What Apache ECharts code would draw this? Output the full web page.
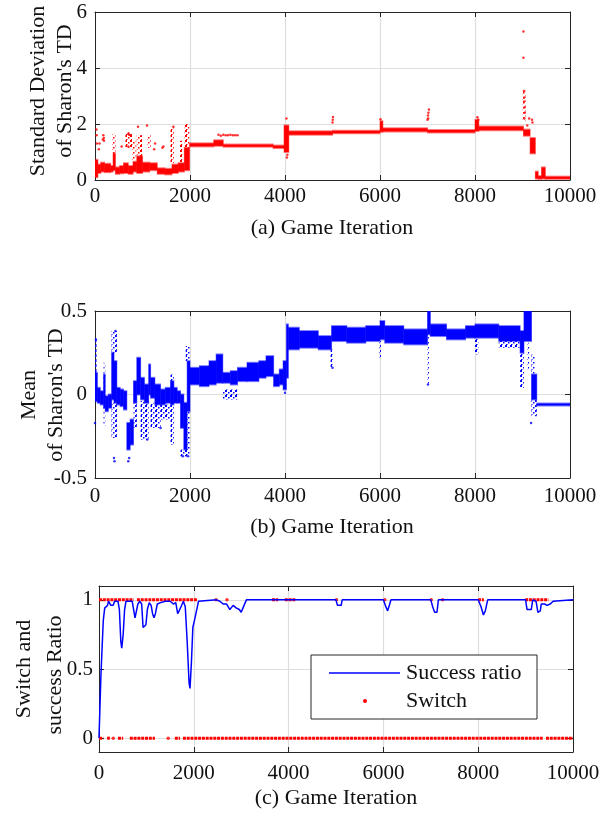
<!DOCTYPE html>
<html>
<head>
<meta charset="utf-8">
<script src="https://cdn.jsdelivr.net/npm/echarts@6/dist/echarts.min.js"></script>
<style>
  html, body { margin: 0; padding: 0; background: #fff; }
  #chart { width: 608px; height: 816px; }
</style>
</head>
<body>
<div id="chart"></div>
<script>
// (a) std of Sharon's TD: dense clouds [x0, x1, lo, hi]
const stdDense = [
  [0, 60, 0.1, 0.72], [60, 120, 0.25, 0.55], [120, 200, 0.3, 0.62], [200, 330, 0.28, 0.58],
  [330, 380, 0.3, 0.5], [380, 430, 0.35, 0.95], [430, 520, 0.22, 0.45], [520, 600, 0.24, 0.5],
  [600, 700, 0.25, 0.6], [700, 800, 0.22, 0.5], [800, 880, 0.3, 0.65], [880, 1000, 0.25, 0.85],
  [1000, 1150, 0.3, 0.62], [1150, 1310, 0.35, 0.6], [1310, 1470, 0.22, 0.42], [1470, 1620, 0.2, 0.4],
  [1620, 1750, 0.25, 0.55], [1750, 1880, 0.3, 0.6], [1880, 1990, 0.35, 1.15],
  [1990, 2500, 1.2, 1.31], [2500, 2700, 1.22, 1.42], [2700, 3750, 1.19, 1.27], [3750, 3980, 1.14, 1.23],
  [3980, 4080, 1.0, 1.95], [4080, 5000, 1.62, 1.74], [5000, 6000, 1.67, 1.76], [6000, 6060, 1.72, 2.1],
  [6060, 7000, 1.73, 1.85], [7000, 8000, 1.7, 1.79], [8000, 8080, 1.75, 2.15], [8080, 9020, 1.78, 1.91],
  [9020, 9160, 1.58, 1.8], [9160, 9270, 0.95, 1.5], [9270, 9330, 0.05, 0.3], [9330, 9400, 0.04, 0.14],
  [9400, 9480, 0.05, 0.45], [9480, 10000, 0.04, 0.12]
];
// (a) sparse clouds [x0, x1, lo, hi]
const stdSparse = [
  [360, 430, 0.95, 1.65], [640, 780, 1.15, 1.7], [780, 850, 0.7, 1.4], [880, 990, 0.85, 1.6],
  [1100, 1170, 1.15, 1.6], [1590, 1660, 0.6, 1.9], [1790, 1840, 0.6, 1.4], [1880, 1990, 1.15, 2.0],
  [9000, 9060, 2.1, 3.2]
];
// (a) isolated points
const stdDotX = [30, 35, 40, 80, 95, 165, 175, 185, 190, 560, 700, 720, 750, 700, 905, 1095, 1245, 1265, 1420, 1440, 1650,
  2600, 2650, 2700, 2750, 2800, 2850, 2900, 2950, 3000, 4030, 4050, 4040, 5000, 5010, 5005, 6010,
  7000, 7010, 7020, 7030, 7015, 8050, 8070, 9020, 9020, 9030, 9040, 9035, 9045, 9050, 9040, 9140, 9200, 9210, 9100];
const stdDotY = [1.8, 1.6, 1.3, 1.1, 1.3, 1.45, 1.6, 1.5, 1.4, 1.2, 1.65, 1.62, 1.6, 1.2, 1.9, 1.95, 1.1, 1.3, 1.15, 1.2, 1.9,
  1.62, 1.58, 1.62, 1.6, 1.6, 1.62, 1.6, 1.6, 1.6, 2.2, 0.9, 0.8, 2.05, 2.25, 2.15, 2.17,
  2.15, 2.3, 2.4, 2.52, 2.2, 2.24, 2.15, 5.3, 4.37, 3.18, 2.95, 2.8, 2.6, 2.4, 2.2, 2.2, 2.15, 2.05, 1.95];

// (b) mean of Sharon's TD: dense clouds [x0, x1, lo, hi]
const meanDense = [
  [0, 50, -0.04, 0.13], [50, 110, -0.05, 0.04], [110, 180, -0.06, 0.02], [180, 215, -0.08, 0.12],
  [215, 280, -0.1, -0.01], [280, 350, -0.08, 0.0], [350, 400, -0.03, 0.25], [400, 460, -0.05, 0.2],
  [460, 530, -0.06, 0.04], [530, 600, -0.07, 0.03], [600, 670, -0.09, 0.02], [670, 740, -0.33, -0.17],
  [740, 810, -0.3, -0.15], [810, 880, -0.05, 0.08], [880, 960, 0.0, 0.22], [960, 1040, -0.03, 0.1],
  [1040, 1130, -0.05, 0.06], [1130, 1170, 0.0, 0.18], [1170, 1260, -0.02, 0.1], [1260, 1380, -0.06, 0.06],
  [1380, 1480, -0.06, 0.03], [1480, 1590, -0.05, 0.04], [1590, 1660, -0.06, 0.08], [1660, 1730, -0.05, 0.04],
  [1730, 1800, -0.05, 0.02], [1800, 1870, -0.2, 0.0], [1870, 1940, -0.33, -0.05], [1940, 2000, -0.1, 0.2],
  [2000, 2200, 0.06, 0.16], [2200, 2400, 0.05, 0.17], [2400, 2550, 0.06, 0.2], [2550, 2690, 0.07, 0.24],
  [2690, 2850, 0.07, 0.13], [2850, 3000, 0.06, 0.14], [3000, 3200, 0.08, 0.16], [3200, 3450, 0.08, 0.19],
  [3450, 3600, 0.1, 0.2], [3600, 3760, 0.11, 0.23], [3760, 3880, 0.05, 0.12], [3880, 3960, 0.06, 0.15],
  [3960, 4030, 0.03, 0.2], [4030, 4070, 0.1, 0.42], [4070, 4300, 0.27, 0.4], [4300, 4700, 0.28, 0.38],
  [4700, 4980, 0.27, 0.35], [4980, 5300, 0.32, 0.41], [5300, 5700, 0.31, 0.4], [5700, 6000, 0.32, 0.41],
  [6000, 6100, 0.33, 0.44], [6100, 6500, 0.31, 0.41], [6500, 7000, 0.3, 0.39], [7000, 7060, 0.36, 0.5],
  [7060, 7400, 0.35, 0.42], [7400, 7800, 0.33, 0.39], [7800, 8000, 0.34, 0.41], [8000, 8500, 0.34, 0.42],
  [8500, 8950, 0.32, 0.41], [8950, 9030, 0.25, 0.38], [9030, 9190, 0.32, 0.5], [9190, 9300, -0.03, 0.12],
  [9300, 10000, -0.066, -0.054]
];
// (b) sparse clouds [x0, x1, lo, hi]
const meanSparse = [
  [0, 30, 0.13, 0.33], [180, 215, -0.19, 0.19], [350, 460, 0.25, 0.38], [350, 460, -0.26, -0.05],
  [810, 880, -0.2, -0.05], [960, 1130, -0.27, -0.04], [1170, 1380, -0.2, -0.05], [1380, 1590, -0.15, -0.06],
  [1590, 1660, -0.3, -0.06], [1590, 1660, 0.08, 0.12], [1800, 1940, -0.37, -0.33], [1910, 2000, 0.2, 0.29],
  [1910, 2000, -0.37, -0.1], [2690, 3000, -0.03, 0.03], [4960, 5010, 0.16, 0.27], [5980, 6020, 0.22, 0.32],
  [6990, 7030, 0.06, 0.36], [8000, 8070, 0.24, 0.34], [8500, 8950, 0.28, 0.32], [8950, 9030, 0.04, 0.25],
  [9100, 9140, 0.15, 0.31], [9190, 9300, -0.13, -0.03], [9190, 9260, 0.12, 0.24]
];
// (b) isolated points
const meanDotX = [0, 20, 400, 410, 430, 700, 720, 4000, 5000, 7010, 9180, 1100, 1380, 1850, 1960];
const meanDotY = [-0.17, 0.33, -0.38, -0.4, 0.38, -0.4, -0.38, 0.01, 0.16, 0.06, -0.17, -0.27, -0.2, -0.37, -0.37];

// (c) success ratio
const successX = [0, 40, 90, 120, 180, 200, 250, 300, 330, 400, 430, 460, 480, 510, 540, 570, 700, 730, 760, 790, 820, 860,
  900, 930, 960, 990, 1020, 1060, 1100, 1130, 1160, 1190, 1230, 1300, 1400, 1500, 1570, 1620, 1660, 1690, 1730,
  1780, 1820, 1860, 1900, 1920, 1950, 1980, 2020, 2060, 2100, 2130, 2480, 2550, 2620, 2690, 2760, 2830, 2900,
  2960, 3000, 3060, 3110, 5000, 5030, 5110, 5130, 6000, 6040, 6090, 6130, 6160, 7000, 7040, 7080, 7130, 7160,
  8000, 8060, 8110, 8150, 8200, 9000, 9030, 9120, 9150, 9220, 9260, 9310, 9330, 9400, 9450, 9520, 9580, 9620, 10000];
const successY = [0, 0.45, 0.85, 0.94, 0.96, 0.99, 0.96, 0.96, 0.99, 0.99, 0.93, 0.7, 0.65, 0.75, 0.93, 0.99, 0.99, 0.93, 0.87, 0.87, 0.97, 0.99,
  0.97, 0.8, 0.79, 0.82, 0.93, 0.98, 0.96, 0.9, 0.87, 0.9, 0.97, 0.98, 0.99, 0.99, 0.97, 0.98, 0.9, 0.92, 0.95,
  0.99, 0.95, 0.7, 0.4, 0.36, 0.55, 0.8, 0.86, 0.87, 0.99, 1, 1, 0.99, 0.97, 0.97, 0.93, 0.96, 0.94,
  0.93, 0.91, 0.96, 1, 1, 0.96, 0.96, 1, 1, 0.96, 0.92, 0.93, 1, 1, 0.95, 0.91, 0.91, 1,
  1, 0.95, 0.89, 0.92, 1, 1, 0.93, 0.93, 1, 0.99, 0.91, 0.92, 0.97, 0.97, 0.96, 0.97, 0.99, 1, 1];
// (c) switch: runs of dots [x0, x1, value] and single dots
const switchRuns = [
  [0, 730, 1], [800, 2070, 1], [3650, 3780, 1], [3920, 4140, 1], [8000, 8120, 1], [8990, 9480, 1],
  [0, 90, 0], [170, 230, 0], [400, 510, 0], [650, 1180, 0], [1600, 1710, 0], [1770, 9360, 0], [9430, 10000, 0]
];
const switchDotX = [2470, 2700, 5010, 6030, 7010, 7250, 300, 1460];
const switchDotY = [1, 1, 1, 1, 1, 1, 0, 0];

const RED = '#ff0000';
const BLUE = '#0000ff';
const INK = '#262626';
const FONT = 'Liberation Serif';

const chart = echarts.init(document.getElementById('chart'));

// 小点纹理，用于稀疏的点云
function dotPattern(color) {
  const c = document.createElement('canvas');
  c.width = 5; c.height = 5;
  const ctx = c.getContext('2d');
  ctx.fillStyle = color;
  ctx.fillRect(0, 0, 2, 2);
  ctx.fillRect(3, 2, 1.5, 1.5);
  ctx.fillRect(1, 4, 1.5, 1);
  return { image: c, repeat: 'repeat' };
}

const axisText = { color: '#111', fontFamily: FONT, fontSize: 21, formatter: (v) => String(v) };

function bottomX(gridIndex, margin) {
  return {
    type: 'value', gridIndex, min: 0, max: 10000, interval: 2000,
    axisLine: { show: true, onZero: false, lineStyle: { color: INK } },
    axisTick: { inside: true, length: 5, lineStyle: { color: INK } },
    axisLabel: Object.assign({ margin }, axisText),
    splitLine: { show: true, lineStyle: { color: '#dedede', width: 1.2 } }
  };
}
function topX(gridIndex) {
  return {
    type: 'value', gridIndex, position: 'top', min: 0, max: 10000, interval: 2000,
    axisLine: { show: true, onZero: false, lineStyle: { color: INK } },
    axisTick: { inside: true, length: 5, lineStyle: { color: INK } },
    axisLabel: { show: false }, splitLine: { show: false }
  };
}
function sideY(gridIndex, min, max, interval, margin, custom, right) {
  const ax = {
    type: 'value', gridIndex, min, max, position: right ? 'right' : 'left',
    axisLine: { show: true, onZero: false, lineStyle: { color: INK } },
    axisTick: { inside: true, length: 5, lineStyle: { color: INK } },
    axisLabel: right ? { show: false } : Object.assign({ margin }, axisText),
    splitLine: { show: !right, lineStyle: { color: '#dedede', width: 1.2 } }
  };
  if (custom) {
    ax.axisTick.customValues = custom;
    if (!right) ax.axisLabel.customValues = custom;
  } else {
    ax.interval = interval;
  }
  return ax;
}

// 点云矩形
function cloudRender(fill, fuzzy) {
  return function (params, api) {
    const p0 = api.coord([api.value(0), api.value(3)]);
    const p1 = api.coord([api.value(1), api.value(2)]);
    const w = Math.max(p1[0] - p0[0], 1.5);
    const h = Math.max(p1[1] - p0[1], 1.5);
    const children = [];
    if (fuzzy) {
      children.push({ type: 'rect', shape: { x: p0[0] - 0.5, y: p0[1] - 1, width: w + 1, height: h + 2 },
        style: { fill: fuzzy, opacity: 0.5 } });
    }
    children.push({ type: 'rect', shape: { x: p0[0], y: p0[1], width: w, height: h }, style: { fill } });
    return { type: 'group', children };
  };
}
// 开关点列
function runRender(params, api) {
  const p0 = api.coord([api.value(0), api.value(2)]);
  const p1 = api.coord([api.value(1), api.value(2)]);
  return {
    type: 'line',
    shape: { x1: p0[0], y1: p0[1], x2: p1[0], y2: p1[1] },
    style: { stroke: RED, lineWidth: 3, lineDash: [3, 0.8] }
  };
}

const rotText = (x, y, text) => ({
  type: 'text', x, y, rotation: Math.PI / 2, z: 100,
  style: { text, fill: '#111', font: '22px "' + FONT + '"', textAlign: 'center', textVerticalAlign: 'middle' }
});
const plainText = (x, y, text, align) => ({
  type: 'text', x, y, z: 100,
  style: { text, fill: '#111', font: '22px "' + FONT + '"', textAlign: align || 'center', textVerticalAlign: 'middle' }
});

chart.setOption({
  animation: false,
  backgroundColor: '#fff',
  grid: [
    { left: 95, top: 12, width: 475, height: 168 },
    { left: 95, top: 311, width: 475, height: 167 },
    { left: 99, top: 586, width: 474, height: 166 }
  ],
  xAxis: [bottomX(0, 6), topX(0), bottomX(1, 8), topX(1), bottomX(2, 11), topX(2)],
  yAxis: [
    sideY(0, 0, 6, 2, 8), sideY(0, 0, 6, 2, 0, null, true),
    sideY(1, -0.5, 0.5, 0.5, 8), sideY(1, -0.5, 0.5, 0.5, 0, null, true),
    sideY(2, -0.1, 1.1, null, 6, [0, 0.5, 1]), sideY(2, -0.1, 1.1, null, 0, [0, 0.5, 1], true)
  ],
  series: [
    { type: 'custom', xAxisIndex: 0, yAxisIndex: 0, clip: true, renderItem: cloudRender(dotPattern(RED)),
      encode: { x: [0, 1], y: [2, 3] }, data: stdSparse },
    { type: 'custom', xAxisIndex: 0, yAxisIndex: 0, clip: true, renderItem: cloudRender(RED, RED),
      encode: { x: [0, 1], y: [2, 3] }, data: stdDense },
    { type: 'scatter', xAxisIndex: 0, yAxisIndex: 0, symbolSize: 2.5, itemStyle: { color: RED },
      data: stdDotX.map((x, i) => [x, stdDotY[i]]) },

    { type: 'custom', xAxisIndex: 2, yAxisIndex: 2, clip: true, renderItem: cloudRender(dotPattern(BLUE)),
      encode: { x: [0, 1], y: [2, 3] }, data: meanSparse },
    { type: 'custom', xAxisIndex: 2, yAxisIndex: 2, clip: true, renderItem: cloudRender(BLUE, BLUE),
      encode: { x: [0, 1], y: [2, 3] }, data: meanDense },
    { type: 'scatter', xAxisIndex: 2, yAxisIndex: 2, symbolSize: 2.5, itemStyle: { color: BLUE },
      data: meanDotX.map((x, i) => [x, meanDotY[i]]) },

    { name: 'Success ratio', type: 'line', xAxisIndex: 4, yAxisIndex: 4, showSymbol: false, symbol: 'none',
      lineStyle: { color: BLUE, width: 1.5 }, data: successX.map((x, i) => [x, successY[i]]) },
    { name: 'Switch', type: 'custom', xAxisIndex: 4, yAxisIndex: 4, renderItem: runRender,
      encode: { x: [0, 1], y: 2 }, data: switchRuns },
    { type: 'scatter', xAxisIndex: 4, yAxisIndex: 4, symbolSize: 3.5, itemStyle: { color: RED },
      data: switchDotX.map((x, i) => [x, switchDotY[i]]) }
  ],
  graphic: [
    rotText(38, 91, 'Standard Deviation'),
    rotText(65, 91, "of Sharon's TD"),
    plainText(332, 228, '(a) Game Iteration'),
    rotText(29, 395, 'Mean'),
    rotText(56, 395, "of Sharon's TD"),
    plainText(332, 527, '(b) Game Iteration'),
    rotText(24, 669, 'Switch and'),
    rotText(55, 675, 'success Ratio'),
    plainText(336, 798, '(c) Game Iteration'),
    // (c) 图例
    { type: 'rect', z: 99, shape: { x: 311, y: 655, width: 226, height: 64 },
      style: { fill: '#fff', stroke: INK, lineWidth: 1 } },
    { type: 'line', z: 100, shape: { x1: 329, y1: 673, x2: 400, y2: 673 }, style: { stroke: BLUE, lineWidth: 1.5 } },
    { type: 'circle', z: 100, shape: { cx: 365, cy: 701, r: 2 }, style: { fill: RED } },
    plainText(406, 673, 'Success ratio', 'left'),
    plainText(406, 701, 'Switch', 'left')
  ]
});
</script>
</body>
</html>
